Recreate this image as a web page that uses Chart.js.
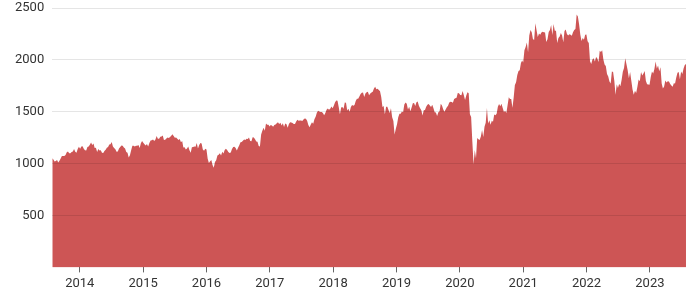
<!DOCTYPE html>
<html>
<head>
<meta charset="utf-8">
<script src="https://cdn.jsdelivr.net/npm/chart.js@4/dist/chart.umd.min.js"></script>
<style>
  body { margin: 0; background: #fff; }
  #wrap { width: 700px; height: 300px; }
</style>
</head>
<body>
<div id="wrap"><canvas id="myChart"></canvas></div>
<script>
// weekly closes (one array per year)
var r2013 = [1053, 1040, 1020, 1026, 1036, 1010, 1027, 1049, 1074, 1074, 1073, 1084, 1109, 1116, 1099,
  1099, 1113, 1117, 1142, 1114, 1104, 1142, 1163];
var r2014 = [1144, 1165, 1168, 1143, 1130, 1126, 1160, 1166, 1183, 1203, 1179, 1195, 1151, 1153, 1111, 1140,
  1127, 1128, 1104, 1102, 1123, 1134, 1154, 1160, 1185, 1186, 1208, 1165, 1150, 1138, 1115, 1117, 1145, 1160,
  1174, 1173, 1155, 1146, 1111, 1105, 1060, 1082, 1129, 1173, 1172, 1165, 1172, 1173, 1180, 1150, 1196, 1219];
var r2015 = [1201, 1186, 1175, 1190, 1165, 1200, 1223, 1226, 1233, 1219, 1232, 1266, 1241, 1239, 1260, 1262,
  1271, 1228, 1231, 1243, 1253, 1247, 1257, 1269, 1283, 1267, 1249, 1253, 1239, 1228, 1238, 1206, 1217, 1156,
  1159, 1137, 1147, 1164, 1130, 1105, 1158, 1160, 1164, 1162, 1199, 1147, 1180, 1199, 1193, 1137, 1124, 1143];
var r2016 = [1136, 1046, 1007, 1024, 1035, 988, 960, 1016, 1033, 1079, 1086, 1101, 1079, 1114, 1097, 1131,
  1144, 1131, 1113, 1103, 1108, 1140, 1160, 1163, 1151, 1127, 1152, 1177, 1205, 1209, 1220, 1233, 1228, 1240,
  1238, 1251, 1219, 1216, 1255, 1252, 1236, 1214, 1211, 1170, 1164, 1282, 1316, 1347, 1318, 1388, 1374, 1375, 1357];
var r2017 = [1372, 1368, 1355, 1372, 1377, 1389, 1398, 1383, 1394, 1368, 1389, 1354, 1386, 1379, 1346, 1382,
  1400, 1396, 1391, 1381, 1382, 1407, 1422, 1414, 1415, 1415, 1412, 1426, 1435, 1433, 1413, 1372, 1350, 1377,
  1398, 1384, 1429, 1451, 1490, 1510, 1502, 1497, 1498, 1488, 1467, 1489, 1520, 1532, 1520, 1530, 1550, 1535];
var r2018 = [1560, 1592, 1608, 1607, 1547, 1477, 1540, 1545, 1530, 1589, 1586, 1511, 1530, 1499, 1545, 1566,
  1557, 1566, 1603, 1626, 1626, 1647, 1672, 1684, 1685, 1643, 1675, 1688, 1692, 1660, 1676, 1686, 1692, 1725,
  1740, 1717, 1722, 1710, 1697, 1643, 1547, 1555, 1475, 1549, 1549, 1516, 1488, 1533, 1448, 1411, 1280, 1337];
var r2019 = [1380, 1447, 1482, 1482, 1502, 1495, 1569, 1589, 1577, 1522, 1549, 1505, 1540, 1582, 1585, 1556,
  1592, 1598, 1559, 1535, 1514, 1465, 1514, 1518, 1549, 1567, 1575, 1561, 1547, 1568, 1533, 1496, 1494, 1459,
  1495, 1506, 1578, 1560, 1523, 1500, 1522, 1543, 1559, 1590, 1596, 1594, 1588, 1624, 1629, 1634, 1681, 1678];
var r2020 = [1661, 1659, 1699, 1660, 1614, 1657, 1687, 1678, 1476, 1450, 1210, 995, 1131, 1052, 1246, 1236,
  1229, 1261, 1325, 1256, 1356, 1394, 1536, 1388, 1418, 1374, 1413, 1403, 1473, 1466, 1480, 1548, 1575, 1552,
  1577, 1536, 1497, 1509, 1487, 1563, 1641, 1623, 1623, 1538, 1636, 1757, 1785, 1855, 1893, 1901, 1969, 1993];
var r2021 = [1975, 2092, 2123, 2168, 2073, 2234, 2289, 2266, 2201, 2192, 2352, 2286, 2221, 2254, 2243, 2264,
  2271, 2267, 2264, 2172, 2200, 2268, 2287, 2336, 2239, 2346, 2280, 2280, 2163, 2210, 2226, 2258, 2234, 2171,
  2278, 2292, 2250, 2236, 2248, 2241, 2233, 2266, 2289, 2297, 2437, 2418, 2343, 2245, 2183, 2212, 2193, 2243, 2245];
var r2022 = [2180, 2162, 1988, 1961, 2003, 2015, 1985, 2028, 2014, 1979, 2087, 2077, 2092, 2003, 1955, 1941,
  1864, 1839, 1792, 1773, 1887, 1883, 1800, 1665, 1765, 1728, 1769, 1745, 1806, 1885, 1921, 2016, 1957, 1900,
  1823, 1882, 1798, 1715, 1665, 1702, 1682, 1742, 1811, 1795, 1883, 1849, 1869, 1892, 1796, 1765, 1763, 1761];
var r2023 = [1836, 1887, 1868, 1911, 1985, 1918, 1946, 1890, 1929, 1772, 1725, 1744, 1802, 1783, 1793, 1791,
  1768, 1754, 1740, 1774, 1773, 1830, 1876, 1883, 1813, 1889, 1865, 1918, 1950, 1960];

var years = [2013, 2014, 2015, 2016, 2017, 2018, 2019, 2020, 2021, 2022, 2023];
var firstFriday = [206, 2, 1, 0, 5, 4, 3, 2, 0, 6, 5]; // day of year of the first value
var closes = [r2013, r2014, r2015, r2016, r2017, r2018, r2019, r2020, r2021, r2022, r2023];

var yTicks = [0, 500, 1000, 1500, 2000, 2500];
var xMin = 2013.565, xMax = 2023.57;

var points = [];
years.forEach(function (y, k) {
  closes[k].forEach(function (v, i) {
    points.push({x: y + (firstFriday[k] + 7 * i) / 365, y: v});
  });
});

var element = document.getElementById('myChart').getContext('2d');

var chartData = {
  datasets: [{
    label: 'Russell 2000',
    data: points,
    backgroundColor: 'rgb(205,85,85)',
    borderWidth: 0,
    pointRadius: 0,
    fill: 'origin',
    tension: 0
  }]
};

var chartOptions = {
  responsive: true,
  maintainAspectRatio: false,
  animation: false,
  layout: {padding: {left: 7, right: 14, top: 8, bottom: 4}},
  plugins: {legend: {display: false}, tooltip: {enabled: false}},
  scales: {
    x: {
      type: 'linear',
      min: xMin,
      max: xMax,
      border: {display: false},
      grid: {drawOnChartArea: false, drawTicks: true, tickLength: 5, color: '#666'},
      ticks: {
        stepSize: 1,
        includeBounds: false,
        maxRotation: 0,
        color: '#333',
        font: {family: 'Roboto', size: 13},
        padding: 4,
        callback: function (v) { return String(v); }
      }
    },
    y: {
      min: yTicks[0],
      max: yTicks[yTicks.length - 1],
      border: {display: false},
      grid: {
        z: 1,
        drawTicks: false,
        color: function (c) { return c.tick && c.tick.value === 0 ? 'rgba(0,0,0,0)' : 'rgba(0,0,0,0.1)'; }
      },
      afterBuildTicks: function (axis) { axis.ticks = yTicks.map(function (v) { return {value: v}; }); },
      afterFit: function (axis) { axis.paddingTop = 0; },
      ticks: {
        color: '#333',
        font: {family: 'Roboto', size: 13},
        padding: 8,
        callback: function (v) { return v === 0 ? '' : String(v); }
      }
    }
  }
};

var chart = new Chart(element, {type: 'line', data: chartData, options: chartOptions});
</script>
</body>
</html>
